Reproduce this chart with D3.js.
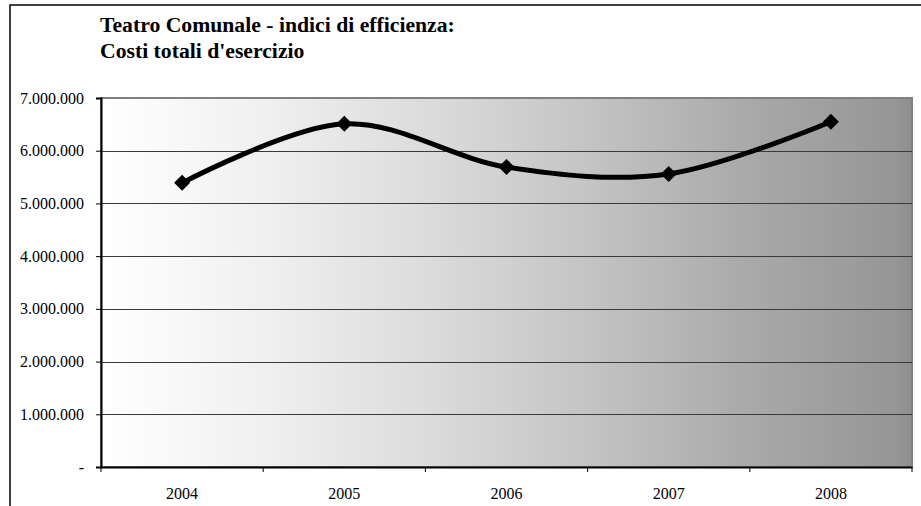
<!DOCTYPE html>
<html><head><meta charset="utf-8">
<script src="https://cdn.jsdelivr.net/npm/d3@7"></script>
<style>body{margin:0;background:#fff}svg{display:block}</style>
</head><body>
<svg id="c" width="921" height="506"></svg>
<script>
const titleLines = ["Teatro Comunale - indici di efficienza:", "Costi totali d'esercizio"];
const years = ["2004", "2005", "2006", "2007", "2008"];
const costs = [5390000, 6510000, 5690000, 5560000, 6550000];
const yTicks = [0, 1000000, 2000000, 3000000, 4000000, 5000000, 6000000, 7000000];

const svg = d3.select("#c");
const m = {l: 101, r: 912, t: 98, b: 467};
const x = d3.scaleBand().domain(years).range([m.l, m.r]);
const y = d3.scaleLinear().domain([0, 7000000]).range([m.b, m.t]);
const FONT = "Liberation Serif, Times New Roman, serif";

// outer frame
svg.append("path").attr("d", "M10,506V5H921").attr("fill", "none").attr("stroke", "#000").attr("stroke-width", 1.5);

// title
svg.append("g").selectAll("text").data(titleLines).join("text")
  .attr("x", 100).attr("y", (d, i) => 31.5 + i * 26)
  .attr("font-family", FONT)
  .attr("font-weight", "bold").attr("font-size", 21.7).attr("fill", "#000")
  .text(d => d);

// gradient
const grad = svg.append("defs").append("linearGradient").attr("id", "bg").attr("x1", 0).attr("x2", 1).attr("y1", 0).attr("y2", 0);
[[0, "#ffffff"], [0.2, "#f0f0f0"], [0.4, "#dcdcdc"], [0.6, "#c4c4c4"], [0.81, "#a8a8a8"], [0.98, "#969696"], [1, "#8e8e8e"]]
  .forEach(([o, c]) => grad.append("stop").attr("offset", o).attr("stop-color", c));

svg.append("rect").attr("x", m.l).attr("y", m.t).attr("width", m.r - m.l).attr("height", m.b - m.t)
  .attr("fill", "url(#bg)").attr("stroke", "#808080").attr("stroke-width", 2);

// gridlines
svg.append("g").selectAll("line").data(yTicks.filter(d => d > 0 && d < 7000000)).join("line")
  .attr("x1", m.l).attr("x2", m.r).attr("y1", d => Math.round(y(d)) + 0.5).attr("y2", d => Math.round(y(d)) + 0.5)
  .attr("stroke", "#3a3a3a").attr("stroke-width", 1);

const fmt = d => d === 0 ? "-" : d3.format(",")(d).replace(/,/g, ".");

// y axis
const ya = svg.append("g").attr("transform", `translate(${m.l},0)`)
  .call(d3.axisLeft(y).tickValues(yTicks).tickFormat(fmt).tickSize(5).tickPadding(12));
ya.select(".domain").attr("stroke", "#000").attr("stroke-width", 2);
ya.selectAll(".tick line").attr("stroke", "#000");
ya.selectAll("text").attr("font-family", FONT).attr("font-size", 16).attr("fill", "#000");

// x axis
const xa = svg.append("g").attr("transform", `translate(0,${m.b})`)
  .call(d3.axisBottom(x).tickSize(0).tickPadding(21));
xa.select(".domain").attr("stroke", "#000").attr("stroke-width", 2);
xa.selectAll("text").attr("font-family", FONT).attr("font-size", 16).attr("fill", "#000");
xa.selectAll(".sep").data(d3.range(years.length + 1)).join("line").attr("class", "sep")
  .attr("x1", i => m.l + i * x.step()).attr("x2", i => m.l + i * x.step())
  .attr("y1", 0).attr("y2", 5).attr("stroke", "#000");

// line
const pts = years.map((yr, i) => [x(yr) + x.bandwidth() / 2, y(costs[i])]);
svg.append("path").datum(pts)
  .attr("d", d3.line().curve(d3.curveCatmullRom.alpha(0)))
  .attr("fill", "none").attr("stroke", "#000").attr("stroke-width", 5);

svg.append("g").selectAll("path").data(pts).join("path")
  .attr("transform", d => `translate(${d[0]},${d[1]})`)
  .attr("d", "M0,-8L8,0L0,8L-8,0Z").attr("fill", "#000");
</script>
</body></html>
